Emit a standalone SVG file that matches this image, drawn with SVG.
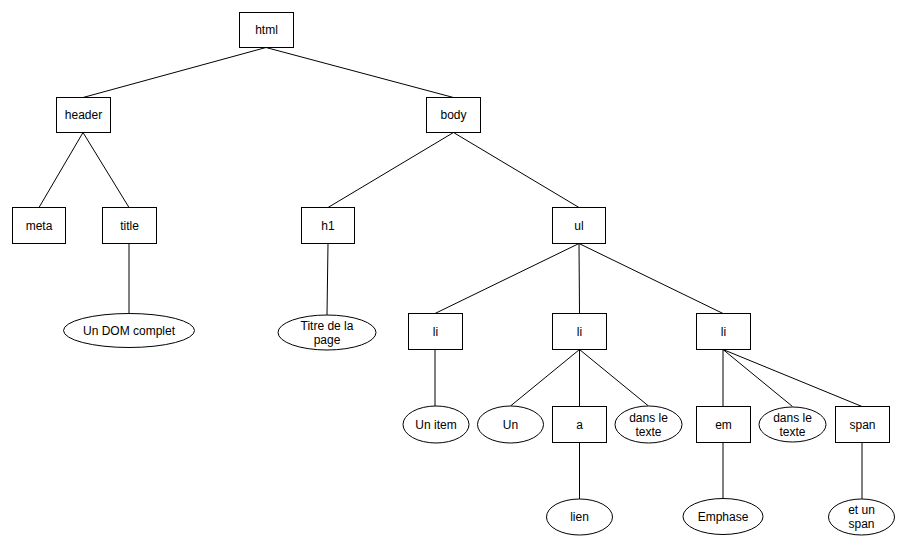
<svg xmlns="http://www.w3.org/2000/svg" width="905" height="546" viewBox="0 0 905 546">
<style>
rect, ellipse { fill: #ffffff; stroke: #000000; stroke-width: 1; }
.edge { stroke: #000000; stroke-width: 1; fill: none; }
text { font-family: "Liberation Sans", Arial, Helvetica, sans-serif; font-size: 12px; fill: #000000; text-anchor: middle; dominant-baseline: central; }
</style>
<rect x="0" y="0" width="905" height="546" style="fill:#ffffff;stroke:none"/>
<g id="connectors">
  <line class="edge" x1="266" y1="47.5" x2="83" y2="97.5"/>
  <line class="edge" x1="266" y1="47.5" x2="453.5" y2="97.5"/>
  <line class="edge" x1="83" y1="132.5" x2="39" y2="207.5"/>
  <line class="edge" x1="83" y1="132.5" x2="129" y2="207.5"/>
  <line class="edge" x1="129" y1="243.5" x2="129" y2="313.5"/>
  <line class="edge" x1="453.5" y1="132.5" x2="328" y2="207.5"/>
  <line class="edge" x1="453.5" y1="132.5" x2="579" y2="207.5"/>
  <line class="edge" x1="328" y1="243.5" x2="327" y2="315"/>
  <line class="edge" x1="579" y1="243.5" x2="435" y2="313.5"/>
  <line class="edge" x1="579" y1="243.5" x2="579.5" y2="313.5"/>
  <line class="edge" x1="579" y1="243.5" x2="723" y2="313.5"/>
  <line class="edge" x1="435" y1="349.5" x2="435" y2="406"/>
  <line class="edge" x1="579.5" y1="349.5" x2="510.5" y2="406"/>
  <line class="edge" x1="579.5" y1="349.5" x2="579.5" y2="406.5"/>
  <line class="edge" x1="579.5" y1="349.5" x2="648.5" y2="406"/>
  <line class="edge" x1="579.5" y1="442.5" x2="579.5" y2="499"/>
  <line class="edge" x1="723" y1="349.5" x2="723" y2="406.5"/>
  <line class="edge" x1="723" y1="349.5" x2="792.5" y2="406.5"/>
  <line class="edge" x1="723" y1="349.5" x2="862" y2="406.5"/>
  <line class="edge" x1="723" y1="442.5" x2="723" y2="498"/>
  <line class="edge" x1="862" y1="442.5" x2="862" y2="499"/>
</g>
<g id="node-html"><rect x="239.5" y="12.5" width="54" height="35"/><text x="266.5" y="30">html</text></g>
<g id="node-header"><rect x="56.5" y="97.5" width="54" height="35"/><text x="83.5" y="115">header</text></g>
<g id="node-body"><rect x="426.5" y="97.5" width="54" height="35"/><text x="453.5" y="115">body</text></g>
<g id="node-meta"><rect x="12.5" y="207.5" width="53" height="36"/><text x="39" y="225.5">meta</text></g>
<g id="node-title"><rect x="102.5" y="207.5" width="54" height="36"/><text x="129.5" y="225.5">title</text></g>
<g id="node-undom"><ellipse cx="129" cy="330.5" rx="65.5" ry="17"/><text x="129" y="330.5">Un DOM complet</text></g>
<g id="node-h1"><rect x="301.5" y="207.5" width="53" height="36"/><text x="328" y="225.5">h1</text></g>
<g id="node-titre"><ellipse cx="327" cy="332.5" rx="49" ry="17.5"/><text x="327" y="325.5">Titre de la</text><text x="327" y="339.5">page</text></g>
<g id="node-ul"><rect x="552.5" y="207.5" width="53" height="36"/><text x="579" y="225.5">ul</text></g>
<g id="node-li1"><rect x="408.5" y="313.5" width="54" height="36"/><text x="435.5" y="331.5">li</text></g>
<g id="node-li2"><rect x="552.5" y="313.5" width="54" height="36"/><text x="579.5" y="331.5">li</text></g>
<g id="node-li3"><rect x="696.5" y="313.5" width="54" height="36"/><text x="723.5" y="331.5">li</text></g>
<g id="node-unitem"><ellipse cx="436" cy="424.5" rx="33" ry="18.5"/><text x="436" y="424.5">Un item</text></g>
<g id="node-un"><ellipse cx="510.5" cy="424.5" rx="33" ry="18.5"/><text x="510.5" y="424.5">Un</text></g>
<g id="node-a"><rect x="552.5" y="406.5" width="54" height="36"/><text x="579.5" y="424.5">a</text></g>
<g id="node-dans1"><ellipse cx="648.5" cy="424.5" rx="33.5" ry="18.5"/><text x="648.5" y="417.5">dans le</text><text x="648.5" y="431.5">texte</text></g>
<g id="node-em"><rect x="696.5" y="406.5" width="54" height="36"/><text x="723.5" y="424.5">em</text></g>
<g id="node-dans2"><ellipse cx="792.5" cy="424.5" rx="33.5" ry="17.5"/><text x="792.5" y="417.5">dans le</text><text x="792.5" y="431.5">texte</text></g>
<g id="node-span"><rect x="835.5" y="406.5" width="54" height="36"/><text x="862.5" y="424.5">span</text></g>
<g id="node-lien"><ellipse cx="579.5" cy="517" rx="33" ry="18"/><text x="579.5" y="517">lien</text></g>
<g id="node-emphase"><ellipse cx="723" cy="516.5" rx="40" ry="18"/><text x="723" y="516.5">Emphase</text></g>
<g id="node-etunspan"><ellipse cx="861.5" cy="517" rx="33" ry="18"/><text x="861.5" y="510">et un</text><text x="861.5" y="524">span</text></g>
</svg>
